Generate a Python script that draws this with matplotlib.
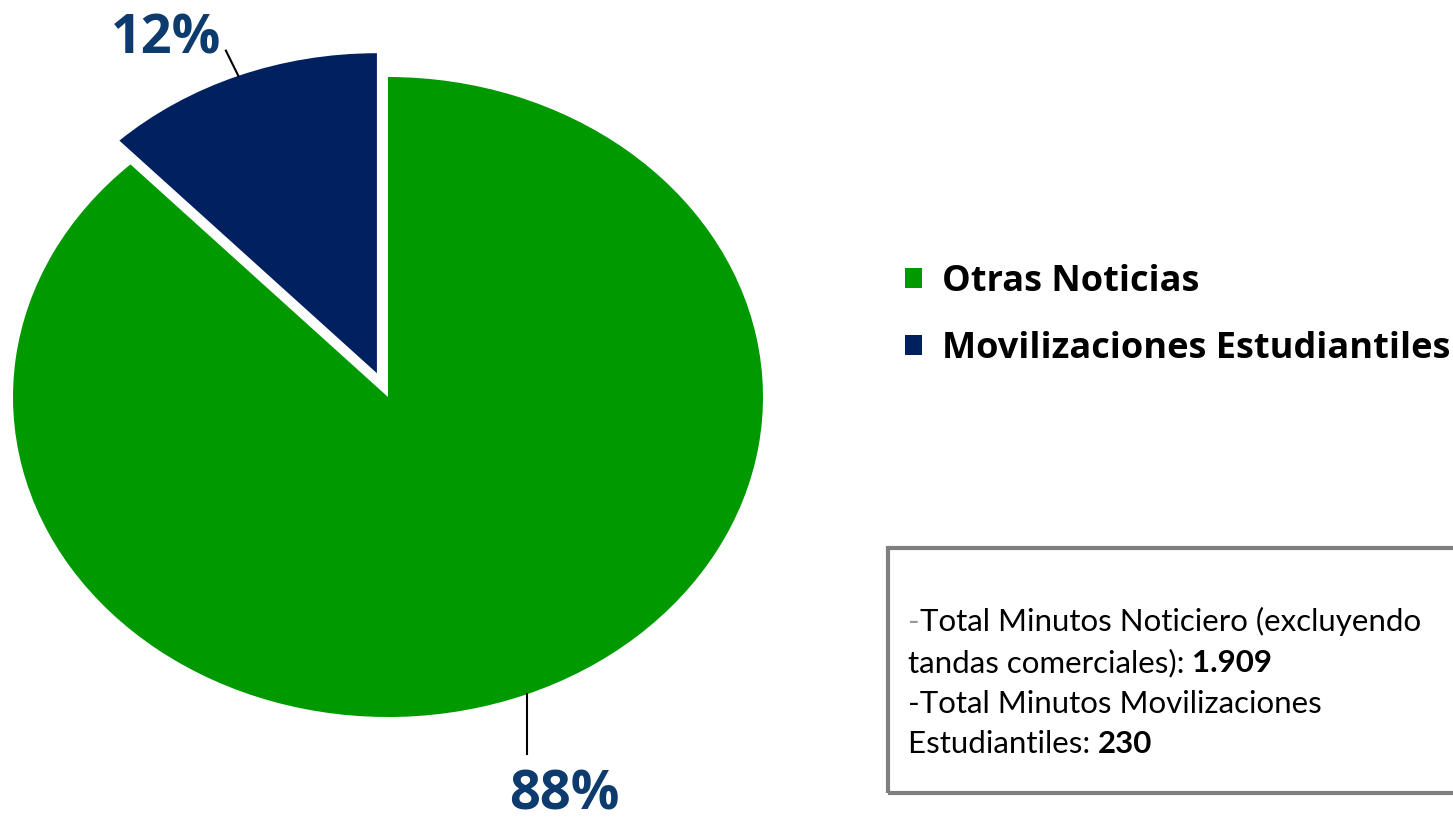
import matplotlib
matplotlib.use("Agg")
import matplotlib.pyplot as plt
from matplotlib.patches import Patch, Rectangle
import numpy as np

# data
categorias = ["Otras Noticias", "Movilizaciones Estudiantiles"]
minutos = [1679, 230]
colores = ["#009900", "#00205f"]
total_noticiero = "1.909"
total_movilizaciones = "230"

W, H = 1453, 825
fig = plt.figure(figsize=(W / 100, H / 100), dpi=100)

def fx(px):
    return px / W

def fy(py):
    return 1 - py / H

# pie axes spans the whole figure, ellipse radii 375 x 320 px, centre (388, 397)
ax = fig.add_axes([0, 0, 1, 1])
cx, cy, rx, ry = 388, 397, 375, 320

# blue slice first so it sits left of 12 o'clock, counterclockwise
vals = minutos[::-1]
cols = colores[::-1]
wedges, _ = ax.pie(vals, colors=cols, startangle=90, counterclock=True,
                   explode=[0.08, 0], radius=1, center=(0, 0),
                   wedgeprops=dict(linewidth=0))
ax.set_aspect("auto")
ax.set_xlim(-cx / rx, (W - cx) / rx)
ax.set_ylim(-(H - cy) / ry, cy / ry)
ax.axis("off")

pct = [v / sum(vals) * 100 for v in vals]
label_color = "#0d3b6e"
pfont = dict(family="Open Sans", weight="bold", size=39, color=label_color)

# 12% label (blue slice): short radial leader line
w = wedges[0]
th = np.deg2rad((w.theta1 + w.theta2) / 2)
x0, y0 = w.center[0] + np.cos(th), w.center[1] + np.sin(th)
x1, y1 = w.center[0] + 1.09 * np.cos(th), w.center[1] + 1.085 * np.sin(th)
ax.plot([x0, x1], [y0, y1], color="black", lw=1.5)
ax.text(x1 - 0.16, y1 - 0.01, f"{pct[0]:.0f}%", ha="center", va="baseline", **pfont)

# 88% label (green slice): vertical leader line
w = wedges[1]
th = np.deg2rad((w.theta1 + w.theta2) / 2)
x0, y0 = w.center[0] + np.cos(th), w.center[1] + np.sin(th)
y1 = -1.115
ax.plot([x0, x0], [y0, y1], color="black", lw=1.5)
ax.text(x0 + 0.1, -1.29, f"{pct[1]:.0f}%", ha="center", va="baseline", **pfont)

# legend
handles = [Patch(facecolor=c, edgecolor="none") for c in colores]
leg = fig.legend(handles, categorias, loc="upper left",
                 bbox_to_anchor=(fx(905), fy(264)), frameon=False,
                 prop=dict(family="Open Sans", weight="bold", size=26),
                 handlelength=0.47, handleheight=0.47, handletextpad=0.55,
                 labelspacing=0.85, borderpad=0, borderaxespad=0)

# info box
box = Rectangle((fx(888), fy(793)), fx(700), (793 - 548) / H,
                transform=fig.transFigure, facecolor="none",
                edgecolor="#7f7f7f", linewidth=3, clip_on=False)
ax.add_patch(box)

tfont = dict(family="Lato", size=22.5)
lines = [
    [("-", "#999999", "normal"), ("Total Minutos Noticiero (excluyendo", "black", "normal")],
    [("tandas comerciales): ", "black", "normal"), (total_noticiero, "black", "bold")],
    [("-Total Minutos Movilizaciones", "black", "normal")],
    [("Estudiantiles: ", "black", "normal"), (total_movilizaciones, "black", "bold")],
]
baselines = [631, 672, 713, 753]
for parts, yb in zip(lines, baselines):
    prev = None
    for txt, col, wt in parts:
        if prev is None:
            prev = ax.text(fx(908), fy(yb), txt, color=col, weight=wt,
                           va="baseline", ha="left", transform=fig.transFigure,
                           **tfont)
        else:
            prev = ax.annotate(txt, xy=(1, 0), xycoords=prev, color=col,
                               weight=wt, va="bottom", ha="left", **tfont)

fig.savefig("out.png", dpi=100)
